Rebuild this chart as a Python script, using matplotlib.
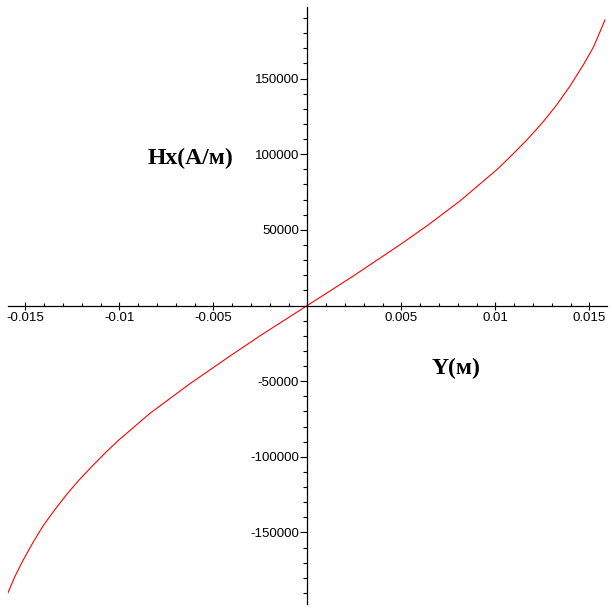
import matplotlib
matplotlib.use('Agg')
import matplotlib.pyplot as plt
from matplotlib.ticker import MultipleLocator

# values
y_pos = [-0.01596, -0.01555, -0.01511, -0.01457, -0.01404, -0.01342, -0.01280,
         -0.01218, -0.01156, -0.01067, -0.01005, -0.00837, -0.0062, -0.0041,
         -0.0025, 0.0, 0.0024, 0.005, 0.0065, 0.00812, 0.01013, 0.01096,
         0.01176, 0.01255, 0.01327, 0.01397, 0.01468, 0.01521, 0.01548, 0.01583]
hx = [-191000, -179000, -168200, -156200, -145400, -134800, -124900,
      -115900, -107700, -96500, -89200, -71300, -51300, -33300,
      -19900, 0, 19100, 40750, 53900, 69100, 90300, 100400,
      110500, 121500, 132700, 145000, 159000, 170600, 178300, 188700]

x_ticks = [-0.015, -0.01, -0.005, 0.005, 0.01, 0.015]
x_tick_labels = ['-0.015', '-0.01', '-0.005', '0.005', '0.01', '0.015']
y_ticks = [-150000, -100000, -50000, 50000, 100000, 150000]
y_tick_labels = ['-150000', '-100000', '-50000', '50000', '100000', '150000']

plt.rcParams['axes.unicode_minus'] = False
plt.rcParams['font.family'] = ['Liberation Sans', 'DejaVu Sans']

fig = plt.figure(figsize=(6.12, 6.12), dpi=100)
ax = fig.add_axes([8/612, 8/612, 599/612, 597/612])

ax.plot(y_pos, hx, color='#ff0000', lw=0.8)

ax.set_xlim(-0.01592, 0.01594)
ax.set_ylim(-197300, 197300)

ax.spines['left'].set_position(('data', 0))
ax.spines['bottom'].set_position(('data', 0))
ax.spines['right'].set_visible(False)
ax.spines['top'].set_visible(False)
for s in ['left', 'bottom']:
    ax.spines[s].set_linewidth(0.9)

ax.set_xticks(x_ticks)
ax.set_xticklabels(x_tick_labels)
ax.set_yticks(y_ticks)
ax.set_yticklabels(y_tick_labels)
ax.xaxis.set_minor_locator(MultipleLocator(0.001))
ax.yaxis.set_minor_locator(MultipleLocator(10000))

ax.tick_params(axis='x', which='major', direction='inout', length=6, width=0.8,
               pad=2, labelsize=9.5)
ax.tick_params(axis='x', which='minor', direction='in', length=2.5, width=0.8)
ax.tick_params(axis='y', which='major', direction='out', length=5, width=0.8,
               pad=1, labelsize=9.5)
ax.tick_params(axis='y', which='minor', direction='out', length=3, width=0.8)

fig.text(190/612, 1 - 158/612, 'Hx(A/м)', ha='center', va='center',
         family='Liberation Serif', weight='bold', size=17)
fig.text(456/612, 1 - 368/612, 'Y(м)', ha='center', va='center',
         family='Liberation Serif', weight='bold', size=17)

fig.savefig('out.png', dpi=100)
